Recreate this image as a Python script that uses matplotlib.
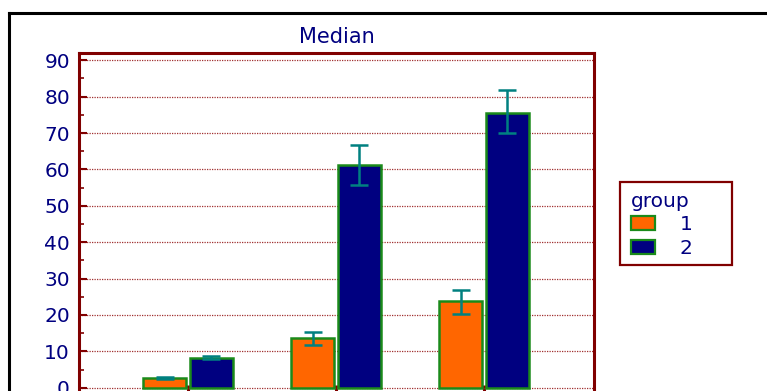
import matplotlib.pyplot as plt
import numpy as np
from matplotlib.lines import Line2D
from matplotlib.patches import Patch, Rectangle
from matplotlib.ticker import MultipleLocator

# medians per category, with lower / upper limits of the error bars
categories = ["A", "B", "C"]
groups = ["1", "2"]
median_g1 = [2.6, 13.6, 23.7]
low_g1 = [2.3, 11.8, 20.3]
high_g1 = [3.0, 15.2, 26.9]
median_g2 = [8.3, 61.1, 75.6]
low_g2 = [7.9, 55.7, 70.0]
high_g2 = [8.8, 66.6, 81.7]

DARKRED = "#800000"
NAVY = "#000080"
TEAL = "#008080"
EDGE = "#1a8a1a"
COLORS = ["#ff6600", NAVY]

plt.rcParams["font.family"] = ["DejaVu Sans"]

fig = plt.figure(figsize=(7.67, 3.91), dpi=100)
ax = fig.add_axes([0.103, -0.0102, 0.6715, 0.8747])

x = np.arange(len(categories))
width = 0.29
offset = 0.157
series = [(median_g1, low_g1, high_g1), (median_g2, low_g2, high_g2)]
for i, (med, lo, hi) in enumerate(series):
    med = np.array(med)
    yerr = [med - np.array(lo), np.array(hi) - med]
    pos = x + (i * 2 - 1) * offset
    ax.bar(pos, med, width, color=COLORS[i], edgecolor=EDGE, linewidth=1.8, zorder=2)
    ax.errorbar(pos, med, yerr=yerr, fmt="none", ecolor=TEAL, elinewidth=1.8,
                capsize=6.8, capthick=1.8, zorder=3)

ax.set_xlim(-0.736, 2.743)
ax.set_ylim(-2, 92)
ax.set_xticks(x)
ax.set_xticklabels(["", "", ""])
ax.yaxis.set_major_locator(MultipleLocator(10))
ax.yaxis.set_minor_locator(MultipleLocator(5))
ax.set_yticks(np.arange(0, 91, 10))
ax.tick_params(axis="y", which="major", direction="in", length=6, width=1.5,
               color=DARKRED, labelcolor=NAVY, labelsize=14.5, pad=6.5)
ax.tick_params(axis="y", which="minor", direction="in", length=3.5, width=1.2,
               color=DARKRED)
ax.tick_params(axis="x", direction="in", length=7, width=2.2, color=DARKRED)
ax.grid(axis="y", which="major", color="#a03030", linestyle=(0, (1, 1)),
        linewidth=0.9, zorder=0)
ax.set_axisbelow(True)
for side in ["left", "right", "top", "bottom"]:
    ax.spines[side].set_color(DARKRED)
    ax.spines[side].set_linewidth(2.2)

ax.set_title("Median", color=NAVY, fontsize=15, pad=7)

# legend box drawn separately so it can be as wide as the original
fig.add_artist(Rectangle((620 / 767, 1 - 265 / 391), 112 / 767, 83 / 391,
                         transform=fig.transFigure, facecolor="white",
                         edgecolor=DARKRED, linewidth=1.6))
handles = [Patch(facecolor=COLORS[i], edgecolor=EDGE, linewidth=1.6) for i in range(2)]
leg = fig.legend(handles, groups, title="group", loc="upper left",
                 bbox_to_anchor=(631 / 767, 1 - 192 / 391), fontsize=14.5,
                 title_fontsize=14.5, frameon=False, handlelength=1.2,
                 handleheight=0.7, handletextpad=1.2, labelspacing=0.22,
                 borderpad=0, borderaxespad=0, alignment="left")
leg.get_title().set_color(NAVY)
for t in leg.get_texts():
    t.set_color(NAVY)

# black outer frame (left and top edges visible in the crop)
fig.add_artist(Line2D([8.5 / 767, 8.5 / 767], [0, 1 - 13 / 391], color="black",
                      linewidth=2.2, transform=fig.transFigure))
fig.add_artist(Line2D([8.5 / 767, 1], [1 - 13 / 391, 1 - 13 / 391], color="black",
                      linewidth=2.2, transform=fig.transFigure))

fig.savefig("out.png", dpi=100)
